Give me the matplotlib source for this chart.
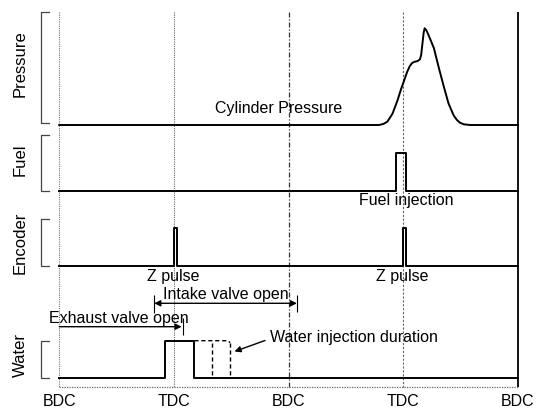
import matplotlib
matplotlib.use("Agg")
import matplotlib.pyplot as plt

plt.rcParams['font.family'] = ['Liberation Sans', 'DejaVu Sans']

# ---------------- data (crank angle in degrees) ----------------
crank_ticks = [0, 180, 360, 540, 720]
crank_labels = ['BDC', 'TDC', 'BDC', 'TDC', 'BDC']
track_names = ['Pressure', 'Fuel', 'Encoder', 'Water']

pressure_angle = [0, 502, 509, 515, 523, 531, 536, 541, 546, 550, 554, 558,
                  562, 566, 568, 570, 572, 573.5, 576, 580, 588, 596, 604,
                  611, 619, 624, 629, 635, 645, 720]
pressure_value = [0, 0, 0.01, 0.03, 0.10, 0.22, 0.31, 0.39, 0.47, 0.52,
                  0.55, 0.56, 0.565, 0.58, 0.62, 0.72, 0.82, 0.856, 0.84,
                  0.79, 0.68, 0.50, 0.33, 0.19, 0.085, 0.045, 0.02, 0.006,
                  0, 0]

fuel_angle = [0, 528, 528, 544, 544, 720]
fuel_value = [0, 0, 0.673, 0.673, 0, 0]

encoder_angle = [0, 180, 180, 184, 184, 540, 540, 544, 544, 720]
encoder_value = [0, 0, 0.815, 0.815, 0, 0, 0.815, 0.815, 0, 0]

water_angle = [0, 166, 166, 212, 212, 720]
water_value = [0, 0, 1, 1, 0, 0]
water_extended_ends = [239, 268]

z_pulse_angles = [180, 540]
intake_open = (149, 373)
exhaust_open = (0, 194)

# ---------------- layout (y in pixel-like units, downward) ----------------
W, H = 542, 408
x_left_px, x_right_px = 59.3, 518.0
deg_per_px = 720 / (x_right_px - x_left_px)
def px2deg(px):
    return (px - x_left_px) * deg_per_px

tracks = {  # name: (baseline, top)
    'Pressure': (125, 12),
    'Fuel': (191, 135),
    'Encoder': (266, 219),
    'Water': (378.3, 340.7),
}
bracket = {  # name: (top, bottom)
    'Pressure': (11.7, 122.7),
    'Fuel': (135, 191),
    'Encoder': (219, 266),
    'Water': (340.7, 378.3),
}
label_y = {'Pressure': 64, 'Fuel': 160, 'Encoder': 243, 'Water': 355}

def ymap(name, vals):
    b, t = tracks[name]
    return [b - v * (b - t) for v in vals]

fig = plt.figure(figsize=(W / 100, H / 100), dpi=100)
ax = fig.add_axes([0, 0, 1, 1])
ax.set_xlim(px2deg(0), px2deg(W))
ax.set_ylim(H, 0)
ax.axis('off')

lw = 1.4
# vertical reference lines
top_y, bot_y = 11.7, 387.3
ax.vlines(crank_ticks[0], top_y, bot_y, colors='#777777', lw=0.8, linestyles=(0, (1, 1)))
ax.vlines(crank_ticks[1], top_y, bot_y, colors='#666666', lw=0.8, linestyles=(0, (1, 1)))
ax.vlines(crank_ticks[2], top_y, bot_y, colors='#333333', lw=0.9, linestyles=(0, (4, 1.5, 1, 1.5)))
ax.vlines(crank_ticks[3], top_y, bot_y, colors='#666666', lw=0.8, linestyles=(0, (2, 1.5)))
ax.vlines(crank_ticks[4], top_y, bot_y, colors='black', lw=1.3)
ax.hlines(bot_y, crank_ticks[0], crank_ticks[4], colors='#666666', lw=0.9, linestyles=(0, (1, 1)))

# traces
ax.plot(pressure_angle, ymap('Pressure', pressure_value), color='black', lw=lw,
        solid_joinstyle='round')
ax.plot(fuel_angle, ymap('Fuel', fuel_value), color='black', lw=lw)
ax.plot(encoder_angle, ymap('Encoder', encoder_value), color='black', lw=lw)
ax.plot(water_angle, ymap('Water', water_value), color='black', lw=lw)

# extended water injection (dashed)
wb, wt = tracks['Water']
ax.plot([water_angle[3], water_extended_ends[-1] - 3, water_extended_ends[-1]],
        [wt, wt, wt + 2], color='black', lw=1.0, ls=(0, (3, 2)))
for e in water_extended_ends:
    ax.plot([e, e], [wt + 2, wb], color='black', lw=1.0, ls=(0, (3, 2)))

# brackets and row labels
bx0, bx1 = px2deg(40.7), px2deg(49.3)
for name in track_names:
    t, bb = bracket[name]
    ax.plot([bx1, bx0, bx0, bx1], [t, t, bb, bb], color='#444444', lw=0.9)
    ax.text(px2deg(20.5), label_y[name], name, rotation=90, ha='center', va='center',
            fontsize=12)

# tick labels
for a, lab in zip(crank_ticks, crank_labels):
    ax.text(a, 406.3, lab, ha='center', va='baseline', fontsize=11.5)

# annotations
fs = 11.5
ax.text(px2deg(279), 113, 'Cylinder Pressure', ha='center', va='baseline', fontsize=fs)
ax.text(px2deg(406), 205, 'Fuel injection', ha='center', va='baseline', fontsize=fs)
for a in z_pulse_angles:
    ax.text(a - 1.5, 280.5, 'Z pulse', ha='center', va='baseline', fontsize=fs)

# intake valve open
iy = 303.3
ax.annotate('', xy=(intake_open[0], iy), xytext=(intake_open[1], iy),
            arrowprops=dict(arrowstyle='<|-|>', color='black', lw=1.0,
                            mutation_scale=9, shrinkA=0, shrinkB=0))
ax.vlines(intake_open[0], 295, 313, colors='black', lw=0.8)
ax.vlines(intake_open[1], 295, 311.5, colors='black', lw=0.8)
ax.text(px2deg(225.8), 299, 'Intake valve open', ha='center', va='baseline', fontsize=fs)

# exhaust valve open
ey = 326.7
ax.annotate('', xy=(exhaust_open[1] - 2, ey), xytext=(exhaust_open[0], ey),
            arrowprops=dict(arrowstyle='-|>', color='black', lw=1.0,
                            mutation_scale=9, shrinkA=0, shrinkB=0))
ax.vlines(exhaust_open[1], 318, 335, colors='black', lw=0.8)
ax.text(px2deg(49.3), 323.5, 'Exhaust valve open', ha='left', va='baseline', fontsize=fs)

# water injection duration
ax.annotate('', xy=(px2deg(234.5), 351.5), xytext=(px2deg(265), 340.5),
            arrowprops=dict(arrowstyle='-|>', color='black', lw=1.0,
                            mutation_scale=9, shrinkA=0, shrinkB=0))
ax.text(px2deg(270), 341.7, 'Water injection duration', ha='left', va='baseline', fontsize=fs)

fig.savefig('out.png', dpi=100)
